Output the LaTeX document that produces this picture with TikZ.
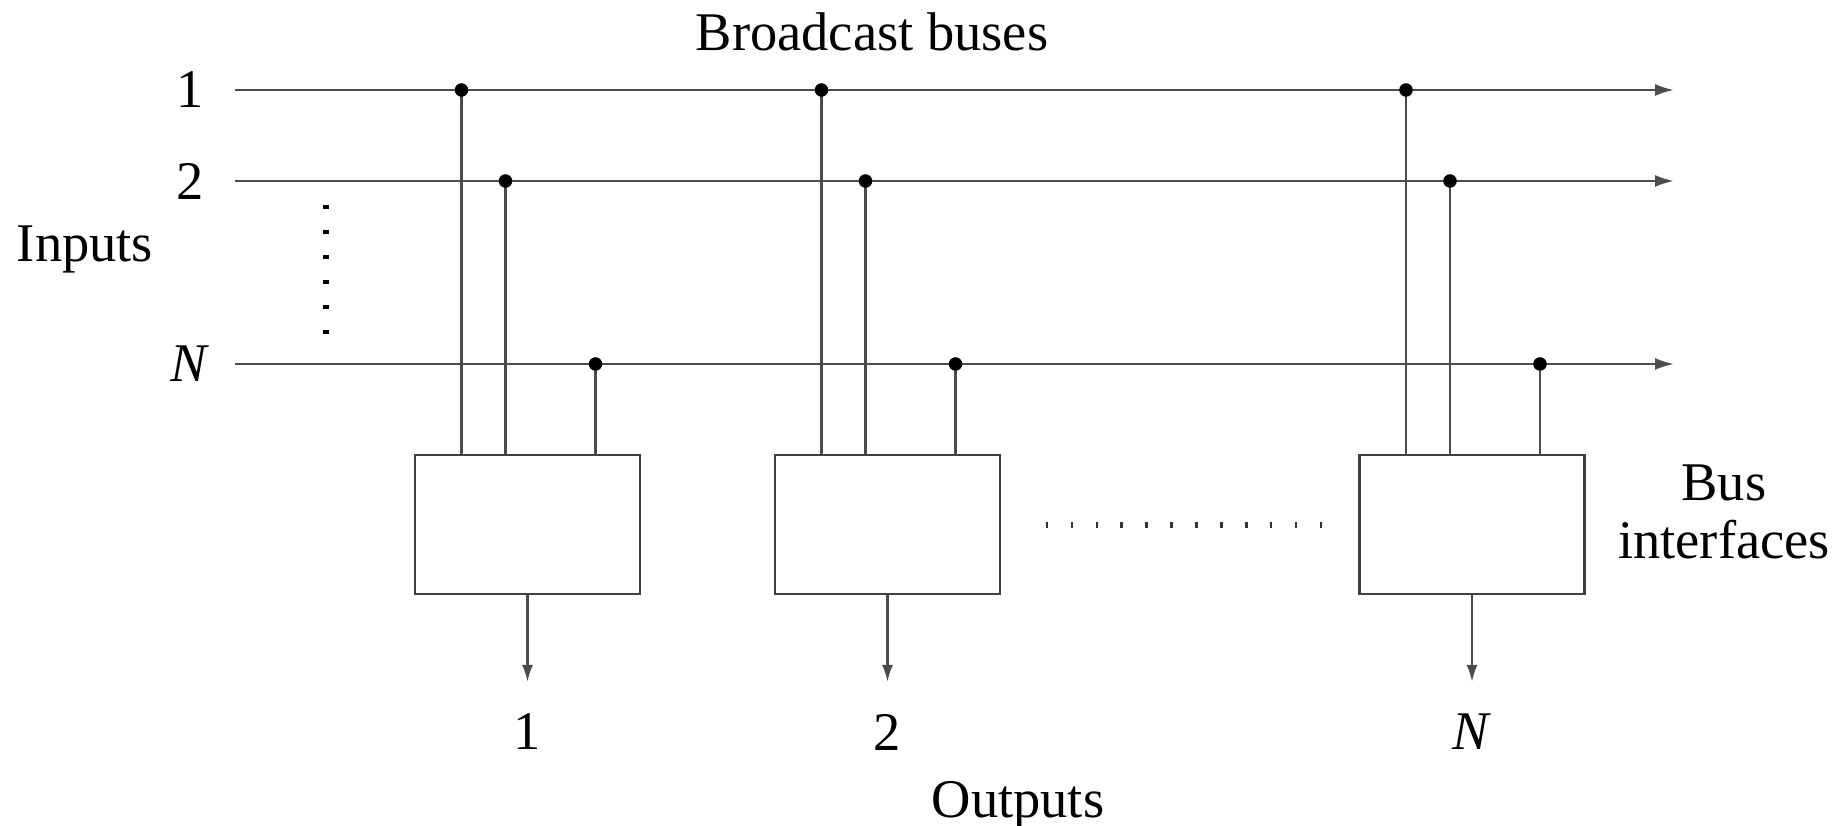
\documentclass[tikz,border=0pt]{standalone}
\usepackage{fontspec}
\setmainfont{Liberation Serif}
\usetikzlibrary{arrows.meta,calc}

\tikzset{
  bus/.style={draw=black!70,line width=0.7pt},
  ifbox/.style={draw=black!75,line width=0.8pt,minimum width=2.25cm,minimum height=1.39cm,inner sep=0pt},
  tap/.style={circle,fill=black,inner sep=0pt,minimum size=1.35mm},
  lbl/.style={font=\fontsize{15.5}{16.5}\selectfont},
}

\begin{document}
\begin{tikzpicture}
  \useasboundingbox (0,0) rectangle (18.33,8.26);
  % the N broadcast buses
  \foreach \n/\y/\t in {1/7.36/1, 2/6.45/2, N/4.62/\textit{N}} {
    \node[lbl] (in\n) at (1.90,\y) {\t};
    \coordinate (bs\n) at (2.35,\y);
    \coordinate (be\n) at (16.74,\y);
    \draw[bus,-{Latex[length=1.9mm,width=1.2mm]}] (bs\n) -- (be\n);
  }
  \node[lbl] (bcast) at (8.72,7.94) {Broadcast buses};
  \node[lbl] (inputs) at (0.85,5.77) {Inputs};
  \foreach \i in {0,...,5}
    \fill ($(3.26,6.19)+(0,-0.25*\i)$) +(-0.03,-0.017) rectangle +(0.03,0.017);

  % bus interfaces, each one tapping every bus
  \foreach \k/\x/\t in {1/5.275/1, 2/8.875/2, N/14.72/\textit{N}} {
    \node[ifbox] (bi\k) at (\x,3.015) {};
    \node[lbl] (out\k) at (\x,0.94) {\t};
    \coordinate (oe\k) at (\x,1.44);
    \draw[bus,-{Latex[length=1.7mm,width=1.1mm]}] (bi\k.south) -- (oe\k);
    \foreach \b/\dx in {1/-0.66, 2/-0.22, N/0.68} {
      \path (bi\k.north) ++(\dx,0) coordinate (f\k\b);
      \coordinate (j\k\b) at (f\k\b |- bs\b);
      \draw[bus] (j\k\b) -- (f\k\b);
      \node[tap] (d\k\b) at (j\k\b) {};
    }
  }
  \foreach \i in {0,...,11}
    \fill[black!80] ($(10.47,3.01)+(0.249*\i,0)$) +(-0.013,-0.03) rectangle +(0.013,0.03);

  \node[lbl,align=center] (busif) at (17.24,3.14) {Bus\\interfaces};
  \node[lbl] (outputs) at (10.18,0.21) {Outputs};
\end{tikzpicture}
\end{document}
